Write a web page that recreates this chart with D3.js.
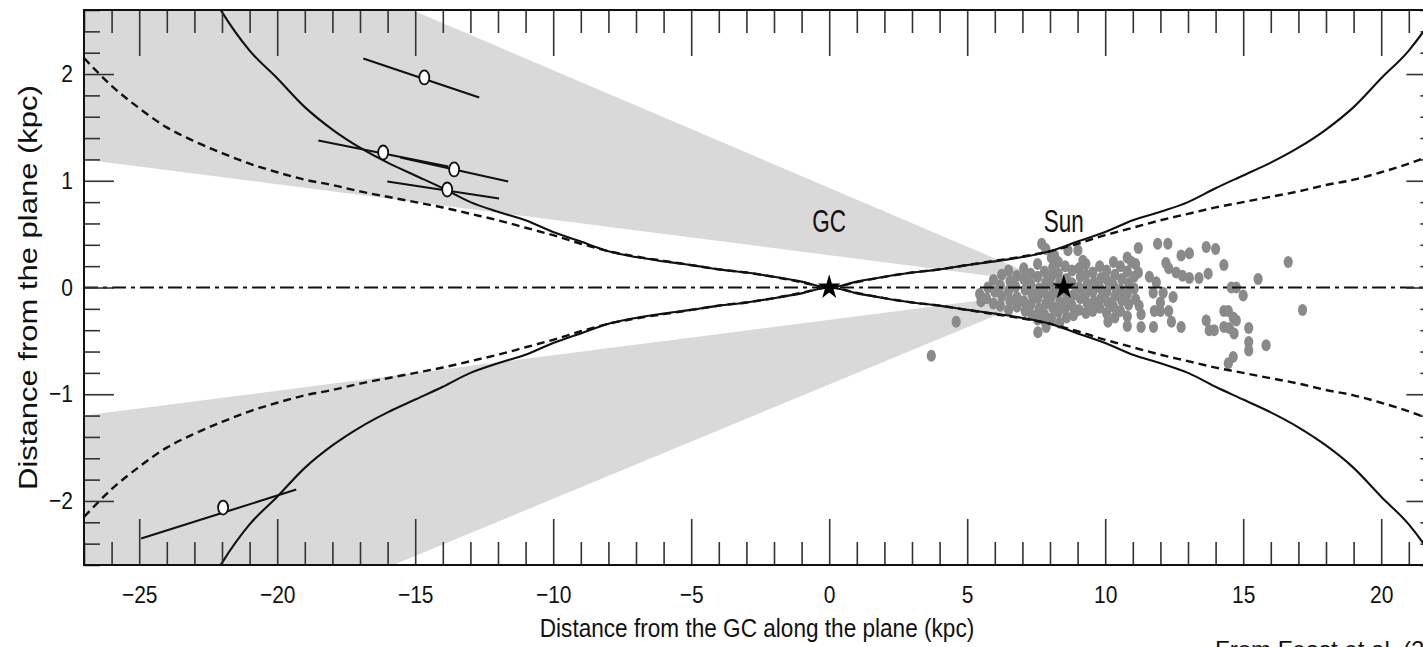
<!DOCTYPE html>
<html>
<head>
<meta charset="utf-8">
<script src="https://cdn.jsdelivr.net/npm/d3@7"></script>
<style>
  html, body { margin: 0; padding: 0; background: #fff; }
  svg { display: block; }
  text { font-family: "Liberation Sans", Arial, sans-serif; fill: #111; }
</style>
</head>
<body>
<svg id="chart" width="1423" height="647"></svg>
<script>
// ---- axis ranges and ticks (kpc) ----
const xDomain = [-27, 22];
const yDomain = [-2.6, 2.6];
const xMajorTicks = [-25, -20, -15, -10, -5, 0, 5, 10, 15, 20];
const xMinorTicks = d3.range(-27, 23).filter(v => v % 5 !== 0);
const yMajorTicks = [-2, -1, 0, 1, 2];
const yMinorTicks = d3.range(-13, 14).filter(i => i % 5 !== 0).map(i => i / 5);

// ---- disk thickness profiles vs galactocentric distance |x| (kpc) ----
const solidR = [0, 1, 2, 3, 4, 5, 6, 7, 8, 9, 10, 11, 12, 13, 14, 15, 16, 17, 18, 19, 20, 21, 22, 22.5];
const solidZ = [0, 0.055, 0.10, 0.14, 0.17, 0.21, 0.245, 0.285, 0.34, 0.43, 0.52, 0.63, 0.71, 0.80, 0.93, 1.05, 1.17, 1.31, 1.48, 1.69, 1.96, 2.22, 2.58, 2.8];
const dashR = [0, 1, 2, 3, 4, 5, 6, 7, 8, 9, 10, 11, 12, 13, 14, 15, 16, 17, 18, 19, 20, 21, 22, 23, 24, 25, 26, 27];
const dashZ = [0, 0.05, 0.10, 0.14, 0.17, 0.21, 0.25, 0.29, 0.34, 0.41, 0.49, 0.56, 0.63, 0.69, 0.75, 0.80, 0.85, 0.90, 0.96, 1.01, 1.08, 1.16, 1.26, 1.37, 1.50, 1.68, 1.89, 2.15];

// ---- shaded latitude wedges: apex, then the two far corners ----
const upperWedge = [[8.2, 0.03], [-27, 1.2], [-27, 3.91]];
const lowerWedge = [[8.2, -0.03], [-27, -1.2], [-27, -3.8]];

// ---- known Cepheids (x, z in kpc) ----
const cepheids = [
  [3.70, -0.64], [4.60, -0.32],
  [5.45, -0.06], [5.50, -0.13], [5.75, 0.00], [5.70, -0.10], [5.95, 0.07], [6.00, -0.04], [5.95, -0.15],
  [6.25, 0.12], [6.20, 0.02], [6.25, -0.08], [6.20, -0.17],
  [6.50, 0.16], [6.55, 0.06], [6.50, -0.03], [6.55, -0.12], [6.50, -0.21],
  [6.80, 0.11], [6.75, 0.01], [6.80, -0.09], [6.80, -0.18],
  [7.05, 0.18], [7.05, 0.08], [7.10, -0.02], [7.05, -0.13], [7.10, -0.22],
  [7.30, 0.13], [7.30, 0.03], [7.35, -0.06], [7.30, -0.16], [7.35, -0.26],
  [7.55, 0.22], [7.55, 0.10], [7.60, -0.01], [7.55, -0.10], [7.60, -0.20], [7.55, -0.30],
  [7.80, 0.15], [7.85, 0.05], [7.80, -0.05], [7.85, -0.15], [7.80, -0.25],
  [8.05, 0.28], [8.10, 0.19], [8.05, 0.10], [8.10, 0.00], [8.05, -0.09], [8.10, -0.19], [8.05, -0.29],
  [8.30, 0.24], [8.30, 0.13], [8.35, 0.05], [8.30, -0.05], [8.35, -0.14], [8.30, -0.23], [8.35, -0.33],
  [8.55, 0.20], [8.60, 0.08], [8.55, -0.03], [8.60, -0.11], [8.55, -0.20], [8.60, -0.28],
  [8.80, 0.16], [8.80, 0.04], [8.85, -0.07], [8.80, -0.17], [8.85, -0.26],
  [9.05, 0.18], [9.10, 0.10], [9.05, 0.00], [9.10, -0.10], [9.05, -0.21],
  [9.30, 0.22], [9.30, 0.12], [9.35, 0.03], [9.30, -0.06], [9.35, -0.15], [9.30, -0.24],
  [9.55, 0.14], [9.60, 0.05], [9.55, -0.04], [9.60, -0.13], [9.55, -0.22],
  [9.80, 0.20], [9.85, 0.09], [9.80, 0.00], [9.85, -0.10], [9.80, -0.19],
  [10.05, 0.16], [10.10, 0.06], [10.05, -0.04], [10.10, -0.14], [10.05, -0.24], [10.10, -0.32],
  [10.30, 0.24], [10.35, 0.12], [10.30, 0.02], [10.35, -0.08], [10.30, -0.18], [10.35, -0.28],
  [10.55, 0.20], [10.60, 0.08], [10.55, -0.02], [10.60, -0.12], [10.55, -0.22],
  [10.80, 0.28], [10.80, 0.15], [10.85, 0.04], [10.80, -0.06], [10.85, -0.16], [10.80, -0.27],
  [10.95, 0.24], [11.05, 0.10], [11.05, -0.01], [11.10, -0.11],
  [7.70, 0.41], [7.85, 0.36], [8.16, 0.30], [8.65, 0.35], [9.01, 0.35], [9.19, 0.25],
  [7.56, -0.42], [7.86, -0.37], [7.80, -0.31],
  [11.20, 0.37], [11.90, 0.41], [12.27, 0.41], [12.75, 0.30], [13.05, 0.32], [13.66, 0.38], [14.00, 0.36],
  [14.30, 0.21], [16.63, 0.24], [15.54, 0.08], [14.57, 0.00], [14.75, 0.00], [15.00, -0.075], [17.15, -0.21],
  [12.20, 0.23], [12.30, 0.18], [12.57, 0.14], [12.80, 0.11], [13.05, 0.09], [13.40, 0.09], [13.73, 0.13],
  [10.80, -0.36], [11.30, -0.37], [11.75, -0.37], [12.40, -0.32], [12.75, -0.37], [13.66, -0.31],
  [13.77, -0.40], [13.95, -0.40], [14.30, -0.22], [14.30, -0.37], [14.46, -0.22], [14.64, -0.28],
  [14.75, -0.31], [14.50, -0.38], [14.67, -0.43], [15.20, -0.38], [15.20, -0.51], [15.20, -0.59],
  [15.83, -0.54], [14.64, -0.65], [14.46, -0.71],
  [12.46, -0.09], [12.10, -0.05], [12.00, -0.14], [11.74, -0.05], [11.85, 0.05], [11.60, 0.10],
  [11.20, 0.14], [11.10, 0.22], [11.23, -0.17], [11.30, -0.25], [11.78, -0.22], [12.00, -0.22], [12.30, -0.22]
];

// ---- new distant Cepheids: position and distance-error segment ends ----
const farX    = [-14.67, -16.16, -13.59, -13.84, -21.96];
const farZ    = [1.968, 1.265, 1.106, 0.918, -2.062];
const farLoX  = [-16.88, -18.51, -15.54, -16.01, -24.93];
const farLoZ  = [2.146, 1.378, 1.218, 0.993, -2.352];
const farHiX  = [-12.68, -13.80, -11.63, -11.96, -19.31];
const farHiZ  = [1.781, 1.134, 0.993, 0.834, -1.893];

// ---- reference markers ----
const markerNames = ["GC", "Sun"];
const markerX = [0, 8.5];
const markerZ = [0, 0];

// ---- layout ----
const svg = d3.select("#chart");
const plotL = 84, plotT = 10, plotB = 565;
const pxPerKpc = 27.6;
const plotR = plotL + (xDomain[1] - xDomain[0]) * pxPerKpc;

const x = d3.scaleLinear().domain(xDomain).range([plotL, plotR]);
const y = d3.scaleLinear().domain(yDomain).range([plotB, plotT]);

svg.append("defs").append("clipPath").attr("id", "plotclip")
  .append("rect").attr("x", plotL).attr("y", plotT)
  .attr("width", plotR - plotL).attr("height", plotB - plotT);

const plot = svg.append("g").attr("clip-path", "url(#plotclip)");

// shaded wedges
const poly = d3.line().x(d => x(d[0])).y(d => y(d[1]));
[upperWedge, lowerWedge].forEach(w => {
  plot.append("path").attr("d", poly(w) + "Z").attr("fill", "#d9d9d9");
});

// Cepheid dots
plot.append("g").selectAll("ellipse").data(cepheids).join("ellipse")
  .attr("cx", d => x(d[0])).attr("cy", d => y(d[1]))
  .attr("rx", 4.6).attr("ry", 6)
  .attr("fill", "#8a8a8a");

// mid-plane
plot.append("line")
  .attr("x1", x(xDomain[0])).attr("x2", x(xDomain[1]))
  .attr("y1", y(0)).attr("y2", y(0))
  .attr("stroke", "#111").attr("stroke-width", 1.8)
  .attr("stroke-dasharray", "14,5,4,5");

// flare curves (upper and lower, mirrored about x = 0)
function branch(rs, zs, sign) {
  const pts = [];
  for (let i = rs.length - 1; i > 0; i--) pts.push([-rs[i], sign * zs[i]]);
  for (let i = 0; i < rs.length; i++) pts.push([rs[i], sign * zs[i]]);
  return pts;
}
const curve = d3.line().x(d => x(d[0])).y(d => y(d[1])).curve(d3.curveMonotoneX);
[1, -1].forEach(s => {
  plot.append("path").attr("d", curve(branch(dashR, dashZ, s)))
    .attr("fill", "none").attr("stroke", "#111").attr("stroke-width", 2.4)
    .attr("stroke-dasharray", "8,5");
  plot.append("path").attr("d", curve(branch(solidR, solidZ, s)))
    .attr("fill", "none").attr("stroke", "#111").attr("stroke-width", 2.1);
});

// distant Cepheids with distance errors
const farIdx = d3.range(farX.length);
plot.append("g").selectAll("line").data(farIdx).join("line")
  .attr("x1", i => x(farLoX[i])).attr("y1", i => y(farLoZ[i]))
  .attr("x2", i => x(farHiX[i])).attr("y2", i => y(farHiZ[i]))
  .attr("stroke", "#111").attr("stroke-width", 2.1);
plot.append("g").selectAll("ellipse").data(farIdx).join("ellipse")
  .attr("cx", i => x(farX[i])).attr("cy", i => y(farZ[i]))
  .attr("rx", 5).attr("ry", 7)
  .attr("fill", "#fff").attr("stroke", "#111").attr("stroke-width", 1.8);

// GC and Sun stars with labels
const star = d3.symbol(d3.symbolStar).size(160);
markerNames.forEach((name, i) => {
  plot.append("path").attr("d", star())
    .attr("transform", `translate(${x(markerX[i])},${y(markerZ[i])}) scale(1,1.1)`)
    .attr("fill", "#000");
  svg.append("text")
    .attr("transform", `translate(${x(markerX[i])},${y(markerZ[i]) - 56}) scale(1,1.4)`)
    .attr("text-anchor", "middle")
    .attr("font-size", 22.5)
    .text(name);
});

// ticks on all four sides, pointing inward
function ticks(axisFn, vals, len, tx, ty, withLabels) {
  const a = axisFn.tickValues(vals).tickSizeInner(-len).tickSizeOuter(0);
  if (!withLabels) a.tickFormat("");
  const g = svg.append("g").attr("transform", `translate(${tx},${ty})`).call(a);
  g.select(".domain").remove();
  g.selectAll(".tick line").attr("stroke", "#333").attr("stroke-width", 1.6);
  return g;
}
const bx = ticks(d3.axisBottom(x).tickFormat(d3.format("d")), xMajorTicks, 46, 0, plotB, true);
ticks(d3.axisBottom(x), xMinorTicks, 23, 0, plotB, false);
ticks(d3.axisTop(x), xMajorTicks, 46, 0, plotT, false);
ticks(d3.axisTop(x), xMinorTicks, 23, 0, plotT, false);
const ly = ticks(d3.axisLeft(y).tickFormat(d3.format("d")), yMajorTicks, 30, plotL, 0, true);
ticks(d3.axisLeft(y), yMinorTicks, 16, plotL, 0, false);
ticks(d3.axisRight(y), yMajorTicks, 30, plotR, 0, false);
ticks(d3.axisRight(y), yMinorTicks, 16, plotR, 0, false);

// tick labels: slightly tall lettering
bx.selectAll(".tick text")
  .attr("font-family", "Liberation Sans, Arial, sans-serif")
  .attr("font-size", 21).attr("fill", "#111")
  .attr("y", 0).attr("dy", "0.71em")
  .attr("transform", "translate(0,21) scale(1,1.15)");
ly.selectAll(".tick text")
  .attr("font-family", "Liberation Sans, Arial, sans-serif")
  .attr("font-size", 21).attr("fill", "#111")
  .attr("x", 0).attr("dy", "0.32em")
  .attr("transform", "translate(-11,0) scale(1,1.15)");

// frame
svg.append("rect").attr("x", plotL).attr("y", plotT)
  .attr("width", plotR - plotL).attr("height", plotB - plotT)
  .attr("fill", "none").attr("stroke", "#111").attr("stroke-width", 2);

// axis titles
svg.append("text")
  .attr("transform", "translate(757,637) scale(1,1.15)")
  .attr("text-anchor", "middle").attr("font-size", 22.6)
  .text("Distance from the GC along the plane (kpc)");

svg.append("text")
  .attr("transform", `translate(37,${y(0)}) rotate(-90) scale(1.24,1)`)
  .attr("text-anchor", "middle").attr("font-size", 25)
  .text("Distance from the plane (kpc)");

// source credit along the lower edge
svg.append("text")
  .attr("x", 1215).attr("y", 658)
  .attr("font-size", 24).attr("fill", "#000")
  .text("From Feast et al. (2014)");
</script>
</body>
</html>
